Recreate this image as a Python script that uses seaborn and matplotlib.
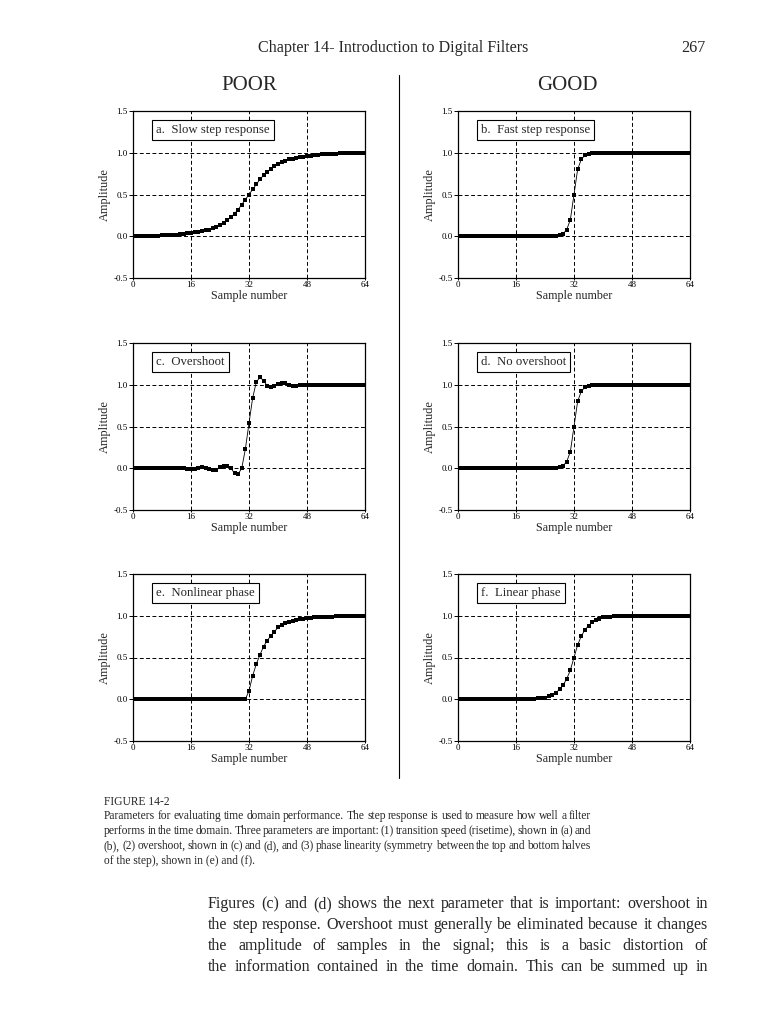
import numpy as np
import matplotlib
matplotlib.use("Agg")
import matplotlib.pyplot as plt
from matplotlib.lines import Line2D
import seaborn as sns

# sample index 0..64
samples = np.arange(65)

slow_step = [0.000, 0.000, 0.001, 0.002, 0.003, 0.004, 0.005, 0.007,
             0.009, 0.011, 0.014, 0.017, 0.020, 0.025, 0.030, 0.035,
             0.040, 0.045, 0.050, 0.060, 0.070, 0.080, 0.095, 0.110,
             0.130, 0.160, 0.190, 0.230, 0.270, 0.320, 0.380, 0.440,
             0.500, 0.560, 0.620, 0.680, 0.730, 0.770, 0.810, 0.840,
             0.870, 0.890, 0.905, 0.920, 0.930, 0.940, 0.950, 0.955,
             0.960, 0.965, 0.970, 0.975, 0.980, 0.983, 0.986, 0.989,
             0.991, 0.993, 0.995, 0.996, 0.997, 0.998, 0.999, 1.000,
             1.000]

fast_step = [0.000, 0.000, 0.000, 0.000, 0.000, 0.000, 0.000, 0.000,
             0.000, 0.000, 0.000, 0.000, 0.000, 0.000, 0.000, 0.000,
             0.000, 0.000, 0.000, 0.000, 0.000, 0.000, 0.000, 0.000,
             0.000, 0.000, 0.000, 0.005, 0.010, 0.030, 0.080, 0.200,
             0.500, 0.800, 0.920, 0.970, 0.990, 0.995, 1.000, 1.000,
             1.000, 1.000, 1.000, 1.000, 1.000, 1.000, 1.000, 1.000,
             1.000, 1.000, 1.000, 1.000, 1.000, 1.000, 1.000, 1.000,
             1.000, 1.000, 1.000, 1.000, 1.000, 1.000, 1.000, 1.000,
             1.000]

overshoot = [0.000, 0.000, 0.000, 0.000, 0.000, 0.000, 0.000, 0.000,
             0.000, 0.000, 0.000, 0.000, 0.000, 0.000, 0.000, -0.010,
             -0.010, -0.005, 0.005, 0.010, 0.005, -0.010, -0.020, -0.020,
             0.010, 0.030, 0.030, 0.000, -0.060, -0.070, 0.000, 0.230,
             0.540, 0.840, 1.030, 1.090, 1.050, 0.990, 0.970, 0.980,
             1.010, 1.020, 1.015, 1.000, 0.990, 0.990, 1.000, 1.000,
             1.000, 1.000, 1.000, 1.000, 1.000, 1.000, 1.000, 1.000,
             1.000, 1.000, 1.000, 1.000, 1.000, 1.000, 1.000, 1.000,
             1.000]

no_overshoot = fast_step

nonlinear_phase = [0.000, 0.000, 0.000, 0.000, 0.000, 0.000, 0.000, 0.000,
                   0.000, 0.000, 0.000, 0.000, 0.000, 0.000, 0.000, 0.000,
                   0.000, 0.000, 0.000, 0.000, 0.000, 0.000, 0.000, 0.000,
                   0.000, 0.000, 0.000, 0.000, 0.000, 0.000, 0.000, 0.000,
                   0.100, 0.280, 0.420, 0.530, 0.630, 0.700, 0.760, 0.810,
                   0.860, 0.890, 0.910, 0.930, 0.940, 0.950, 0.960, 0.965,
                   0.970, 0.975, 0.980, 0.980, 0.985, 0.985, 0.990, 0.990,
                   0.992, 0.994, 0.995, 0.996, 0.997, 0.998, 0.999, 1.000,
                   1.000]

linear_phase = [0.000, 0.000, 0.000, 0.000, 0.000, 0.000, 0.000, 0.000,
                0.000, 0.000, 0.000, 0.000, 0.002, 0.002, 0.003, 0.003,
                0.004, 0.004, 0.005, 0.005, 0.005, 0.007, 0.010, 0.015,
                0.020, 0.035, 0.050, 0.075, 0.120, 0.170, 0.245, 0.350,
                0.500, 0.650, 0.755, 0.830, 0.880, 0.925, 0.950, 0.965,
                0.980, 0.985, 0.990, 0.995, 0.996, 0.997, 0.998, 1.000,
                1.000, 1.000, 1.000, 1.000, 1.000, 1.000, 1.000, 1.000,
                1.000, 1.000, 1.000, 1.000, 1.000, 1.000, 1.000, 1.000,
                1.000]

panel_labels = ["a.  Slow step response", "b.  Fast step response",
                "c.  Overshoot", "d.  No overshoot",
                "e.  Nonlinear phase", "f.  Linear phase"]
panel_data = [slow_step, fast_step, overshoot, no_overshoot,
              nonlinear_phase, linear_phase]

x_ticks = [0, 16, 32, 48, 64]
y_ticks = [-0.5, 0.0, 0.5, 1.0, 1.5]
y_tick_labels = ["-0.5", "0.0", "0.5", "1.0", "1.5"]

header = "Chapter 14- Introduction to Digital Filters"
page_no = "267"
caption_title = "FIGURE 14-2"
caption_lines = [
    "Parameters for evaluating time domain performance.  The step response is used to measure how well a filter",
    "performs in the time domain.  Three parameters are important: (1) transition speed (risetime), shown in (a) and",
    "(b), (2) overshoot, shown in (c) and (d), and (3) phase linearity (symmetry between the top and bottom halves",
    "of the step), shown in (e) and (f).",
]
body_lines = [
    "Figures (c) and (d) shows the next parameter that is important: overshoot in",
    "the step response.  Overshoot must generally be eliminated because it changes",
    "the amplitude of samples in the signal; this is a basic distortion of",
    "the information contained in the time domain.  This can be summed up in",
]

sns.set_style("white")
plt.rcParams["font.family"] = ["Liberation Serif", "DejaVu Serif"]
plt.rcParams["axes.unicode_minus"] = False

W, H = 762, 1024
fig = plt.figure(figsize=(W / 100, H / 100), dpi=100)
fig.patch.set_facecolor("white")

col_left = [133, 458]
row_top = [111, 343, 574]
ax_w, ax_h = 232, 167

for i, (vals, lab) in enumerate(zip(panel_data, panel_labels)):
    r, c = divmod(i, 2)
    left = col_left[c] / W
    bottom = 1 - (row_top[r] + ax_h) / H
    ax = fig.add_axes([left, bottom, ax_w / W, ax_h / H])
    sns.lineplot(x=samples, y=vals, ax=ax, color="black", linewidth=0.6,
                 marker="s", markersize=3.4, markeredgewidth=0,
                 markerfacecolor="black", zorder=3)
    ax.set_xlim(0, 64)
    ax.set_ylim(-0.5, 1.5)
    ax.set_xticks(x_ticks)
    ax.set_yticks(y_ticks)
    ax.set_yticklabels(y_tick_labels)
    for gx in [16, 32, 48]:
        ax.axvline(gx, color="black", lw=0.7, ls=(0, (4, 2.5)), zorder=1)
    for gy in [0.0, 0.5, 1.0]:
        ax.axhline(gy, color="black", lw=0.7, ls=(0, (4, 2.5)), zorder=1)
    for s in ax.spines.values():
        s.set_color("black")
        s.set_linewidth(0.9)
    ax.tick_params(direction="out", width=0.7, labelsize=6.5,
                   colors="black", bottom=True, left=True)
    ax.tick_params(axis="y", length=3, pad=1)
    ax.tick_params(axis="x", length=1.5, pad=0.8)
    ax.set_xlabel("Sample number", fontsize=8.7)
    ax.set_ylabel("Amplitude", fontsize=8.8)
    ax.xaxis.set_label_coords(0.5, -0.07)
    ax.yaxis.set_label_coords(-0.095, 0.5)
    ax.text(0.1, 0.885, lab, transform=ax.transAxes, fontsize=9.2,
            ha="left", va="center", zorder=5,
            bbox=dict(boxstyle="square,pad=0.3", fc="white", ec="black", lw=0.8))

# page furniture
fig.text(393 / W, 1 - 48 / H, header, ha="center", va="center", fontsize=11.6)
fig.text(706 / W, 1 - 48 / H, page_no, ha="right", va="center", fontsize=11.6)
fig.text(249 / W, 1 - 86 / H, "POOR", ha="center", va="center", fontsize=15)
fig.text(567 / W, 1 - 86 / H, "GOOD", ha="center", va="center", fontsize=15)
fig.add_artist(Line2D([399 / W, 399 / W], [1 - 75 / H, 1 - 778 / H],
                      color="black", lw=0.8))

renderer = fig.canvas.get_renderer()


def justify(line, x0, x1, y, size):
    words = line.split()
    objs = [fig.text(0, y, w, fontsize=size, ha="left", va="baseline") for w in words]
    widths = [o.get_window_extent(renderer).width for o in objs]
    gap = (x1 - x0 - sum(widths)) / max(len(words) - 1, 1)
    x = x0
    for o, wd in zip(objs, widths):
        o.set_x(x / W)
        x += wd + gap


fig.text(104 / W, 1 - 805 / H, caption_title, ha="left", va="baseline", fontsize=8.3)
for k, line in enumerate(caption_lines):
    y = 1 - (819 + 15 * k) / H
    if k < len(caption_lines) - 1:
        justify(line, 104, 591, y, 8.3)
    else:
        fig.text(104 / W, y, line, ha="left", va="baseline", fontsize=8.3)

for k, line in enumerate(body_lines):
    justify(line, 208, 708, 1 - (908 + 21 * k) / H, 11.5)

fig.savefig("out.png", dpi=100, facecolor="white")
